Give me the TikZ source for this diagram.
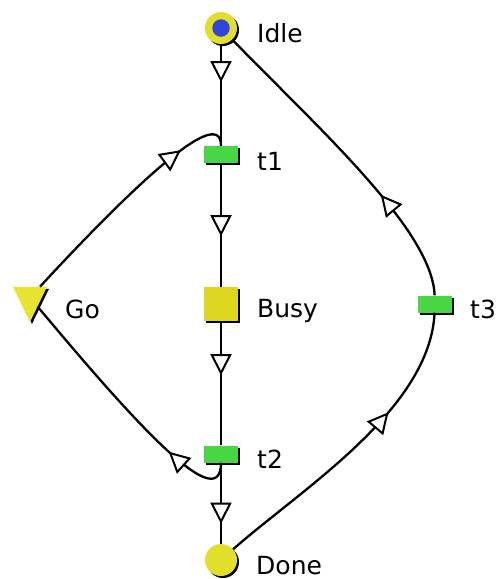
\documentclass[tikz,border=0pt]{standalone}
\usepackage{fontspec}
\setmainfont{DejaVu Sans}
\usetikzlibrary{arrows.meta,decorations.markings,shapes.geometric,shadows}

\definecolor{placeyellow}{RGB}{226,222,44}
\definecolor{busyyellow}{RGB}{220,214,30}
\definecolor{goyellow}{RGB}{232,226,48}
\definecolor{transgreen}{RGB}{72,214,68}
\definecolor{tokenblue}{RGB}{51,68,221}

\tikzset{
  netshadow/.style={drop shadow={shadow xshift=2pt, shadow yshift=-2pt, opacity=1, fill=black}},
  place/.style={circle, fill=placeyellow, minimum size=32pt, inner sep=0pt, netshadow},
  token/.style={circle, fill=tokenblue, minimum size=17.5pt, inner sep=0pt},
  busybox/.style={rectangle, fill=busyyellow, minimum size=34pt, inner sep=0pt, netshadow},
  trans/.style={rectangle, fill=transgreen, minimum width=34pt, minimum height=17pt, inner sep=0pt, netshadow},
  gotri/.style={isosceles triangle, isosceles triangle stretches, shape border rotate=270,
    minimum width=34pt, minimum height=35pt, inner sep=0pt, fill=goyellow, netshadow},
  netarc/.style={line width=2.3pt, postaction={decorate}},
  tipat/.style={decoration={markings, mark=at position #1 with
    {\arrow{Triangle[open, fill=white, length=21pt, width=21pt, line width=2pt]}}}},
  lbl/.style={anchor=base west, font=\fontsize{25}{30}\selectfont, inner sep=0pt}
}

\begin{document}
\begin{tikzpicture}[x=1pt, y=-1pt]
  \useasboundingbox (0,0) rectangle (497,579);

  % places, transitions and the side condition
  \node[place] (Idle) at (221,28) {};
  \node[token] (tok) at (Idle) {};
  \node[trans] (t1) at (221,154.5) {};
  \node[busybox] (Busy) at (221,304) {};
  \node[trans] (t2) at (221,454) {};
  \node[place] (Done) at (221,560) {};
  \node[trans] (t3) at (435,304) {};
  \node[gotri] (Go) at (30,297.5) {};

  % labels
  \node[lbl] (lIdle) at (257,42) {Idle};
  \node[lbl] (lt1) at (257,170) {t1};
  \node[lbl] (lBusy) at (257,317) {Busy};
  \node[lbl] (lt2) at (257,468) {t2};
  \node[lbl] (lDone) at (256,574) {Done};
  \node[lbl] (lt3) at (470,318) {t3};
  \node[lbl] (lGo) at (65,318) {Go};

  % main cycle
  \draw[netarc, tipat=38pt] (Idle) -- (t1);
  \draw[netarc, tipat=73pt] (t1) -- (Busy);
  \draw[netarc, tipat=54pt] (Busy) -- (t2);
  \draw[netarc, tipat=61pt] (t2) -- (Done);
  \draw[netarc, tipat=0.65] (Done) .. controls (300,490) and (430,410) .. (t3);
  \draw[netarc, tipat=0.35] (t3) .. controls (432,230) and (320,130) .. (Idle);

  % side condition Go
  \draw[netarc, tipat=0.79] (Go) .. controls (120,200) and (221,100) .. (t1);
  \draw[netarc, tipat=0.27] (t2) .. controls (221,522) and (120,405) .. (Go);
\end{tikzpicture}
\end{document}
